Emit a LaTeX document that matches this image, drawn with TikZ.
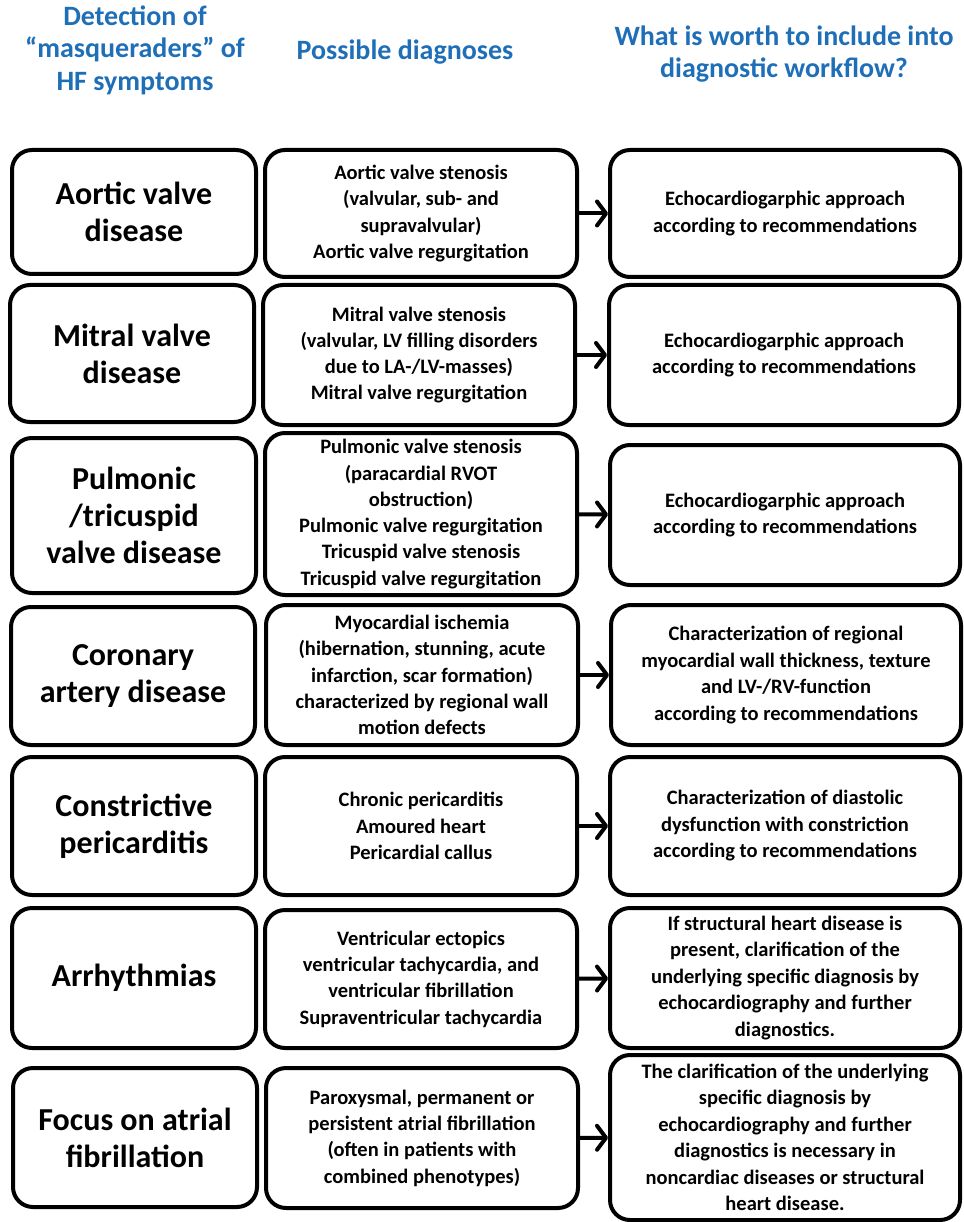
\documentclass[tikz,border=0pt]{standalone}
\usepackage{fontspec}
\setmainfont{Carlito}
\usepackage{xcolor}
\usetikzlibrary{arrows.meta,positioning}
\definecolor{headblue}{HTML}{1F6FB8}
\definecolor{inkblack}{HTML}{000000}
\tikzset{
  basebox/.style={draw=inkblack,line width=4pt,rounded corners=20pt,fill=white,
    align=center,inner sep=2pt,font=\bfseries},
  diseasebox/.style={basebox,minimum width=244pt,font=\fontsize{32}{37}\selectfont\bfseries},
  dxbox/.style={basebox,minimum width=312pt,font=\fontsize{20.5}{26.3}\selectfont\bfseries},
  workbox/.style={basebox,minimum width=350pt,font=\fontsize{20.5}{26.5}\selectfont\bfseries},
  headtext/.style={text=headblue,align=center,font=\fontsize{28}{32.5}\selectfont\bfseries},
  workarrow/.style={-{Straight Barb[length=9pt,width=24pt,round]},draw=inkblack,line width=4pt}
}

\begin{document}
\begin{tikzpicture}[x=1pt,y=-1pt]
  \useasboundingbox (0,0) rectangle (963,1222);
  % column headers
  \node[headtext] (h1) at (135,50) {Detection of\\``masqueraders'' of\\HF symptoms};
  \node[headtext] (h2) at (405,52) {Possible diagnoses};
  \node[headtext] (h3) at (784,54) {What is worth to include into\\diagnostic workflow?};
  % masqueraders
  \node[diseasebox,minimum height=124pt] (dis1) at (134,212) {Aortic valve\\disease};
  \node[diseasebox,minimum height=137pt] (dis2) at (132,353.5) {Mitral valve\\disease};
  \node[diseasebox,minimum height=155pt] (dis3) at (134,515.5) {Pulmonic\\/tricuspid\\valve disease};
  \node[diseasebox,minimum height=138pt] (dis4) at (133,676) {Coronary\\artery disease};
  \node[diseasebox,minimum height=138pt] (dis5) at (134,826) {Constrictive\\pericarditis};
  \node[diseasebox,minimum height=140pt] (dis6) at (134,978) {Arrhythmias};
  \node[diseasebox,minimum height=139pt] (dis7) at (135,1137.5) {Focus on atrial\\fibrillation};
  % possible diagnoses
  \node[dxbox,minimum height=127pt] (dx1) at (421,213.5) {Aortic valve stenosis\\(valvular, sub- and\\supravalvular)\\Aortic valve regurgitation};
  \node[dxbox,minimum height=140pt] (dx2) at (419,355) {Mitral valve stenosis\\(valvular, LV filling disorders\\due to LA-/LV-masses)\\Mitral valve regurgitation};
  \node[dxbox,minimum height=162pt] (dx3) at (421,514) {Pulmonic valve stenosis\\(paracardial RVOT\\obstruction)\\Pulmonic valve regurgitation\\Tricuspid valve stenosis\\Tricuspid valve regurgitation};
  \node[dxbox,minimum height=140pt] (dx4) at (422,675) {Myocardial ischemia\\(hibernation, stunning, acute\\infarction, scar formation)\\characterized by regional wall\\motion defects};
  \node[dxbox,minimum height=138pt] (dx5) at (421,826) {Chronic pericarditis\\Amoured heart\\Pericardial callus};
  \node[dxbox,minimum height=138pt] (dx6) at (421,979) {Ventricular ectopics\\ventricular tachycardia, and\\ventricular fibrillation\\Supraventricular tachycardia};
  \node[dxbox,minimum height=140pt] (dx7) at (422,1138) {Paroxysmal, permanent or\\persistent atrial fibrillation\\(often in patients with\\combined phenotypes)};
  % workflow
  \node[workbox,minimum height=127pt] (wf1) at (785,213.5) {Echocardiogarphic approach\\according to recommendations};
  \node[workbox,minimum height=140pt] (wf2) at (784,355) {Echocardiogarphic approach\\according to recommendations};
  \node[workbox,minimum height=140pt] (wf3) at (785,515) {Echocardiogarphic approach\\according to recommendations};
  \node[workbox,minimum height=140pt] (wf4) at (786,675) {Characterization of regional\\myocardial wall thickness, texture\\and LV-/RV-function\\according to recommendations};
  \node[workbox,minimum height=138pt] (wf5) at (785,826) {Characterization of diastolic\\dysfunction with constriction\\according to recommendations};
  \node[workbox,minimum height=140pt] (wf6) at (785,978) {If structural heart disease is\\present, clarification of the\\underlying specific diagnosis by\\echocardiography and further\\diagnostics.};
  \node[workbox,minimum height=165pt] (wf7) at (785,1137.5) {The clarification of the underlying\\specific diagnosis by\\echocardiography and further\\diagnostics is necessary in\\noncardiac diseases or structural\\heart disease.};
  \draw[workarrow] (dx1) -- (wf1);
  \draw[workarrow] (dx2) -- (wf2);
  \draw[workarrow] (dx3) -- (wf3);
  \draw[workarrow] (dx4) -- (wf4);
  \draw[workarrow] (dx5) -- (wf5);
  \draw[workarrow] (dx6) -- (wf6);
  \draw[workarrow] (dx7) -- (wf7);
\end{tikzpicture}
\end{document}
